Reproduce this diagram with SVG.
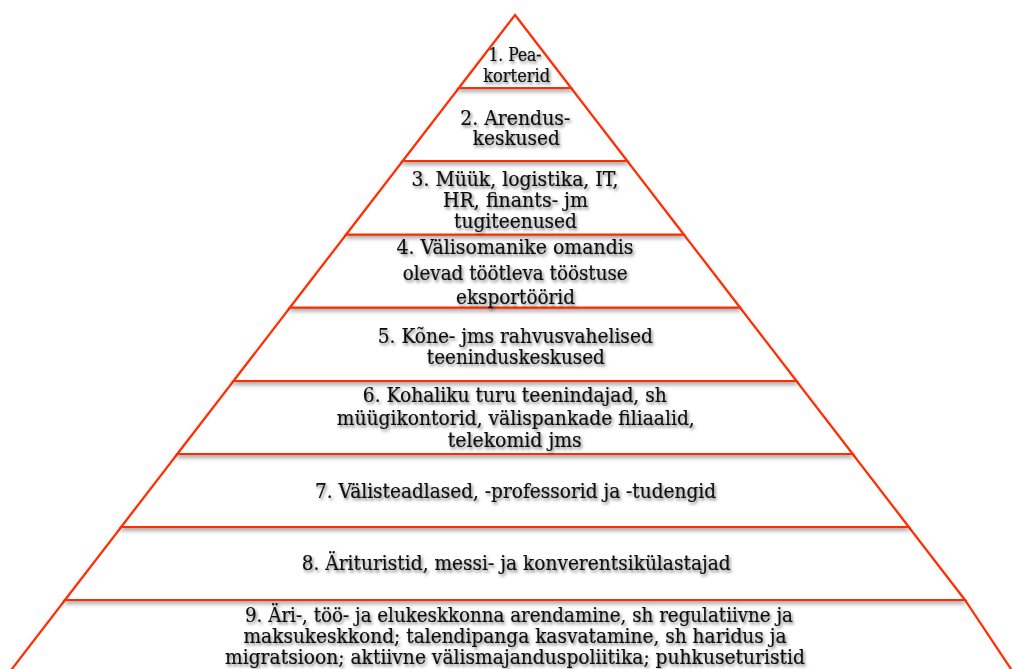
<svg xmlns="http://www.w3.org/2000/svg" width="1012" height="669" viewBox="0 0 1012 669">
  <defs>
    <filter id="shapeShadow" x="-5%" y="-10%" width="110%" height="130%">
      <feDropShadow dx="0" dy="3" stdDeviation="2" flood-color="#000" flood-opacity="0.33"/>
    </filter>
    <filter id="textShadow" x="-5%" y="-30%" width="110%" height="160%">
      <feDropShadow dx="1.5" dy="2.2" stdDeviation="1.5" flood-color="#000" flood-opacity="0.5"/>
    </filter>
  </defs>
  <style>
    .lvl { fill: #ffffff; stroke: #ff2d05; stroke-width: 2.2; stroke-linejoin: miter; filter: url(#shapeShadow); }
    .t { font-family: "DejaVu Serif", "Liberation Serif", serif; font-size: 19.5px; fill: #111111; stroke: #111111; stroke-width: 0.2; text-anchor: middle; filter: url(#textShadow); }
    .t1 { font-size: 18.5px; }
  </style>
  <rect x="0" y="0" width="1012" height="669" fill="#ffffff"/>

  <g id="level9">
    <polygon class="lvl" points="65,600 965,600 1018.3,680 3.5,680"/>
    <text class="t" x="519" y="621.7" textLength="548" lengthAdjust="spacingAndGlyphs">9. Äri-, töö- ja elukeskkonna arendamine, sh regulatiivne ja</text>
    <text class="t" x="515" y="643" textLength="543" lengthAdjust="spacingAndGlyphs">maksukeskkond; talendipanga kasvatamine, sh haridus ja</text>
    <text class="t" x="515" y="664" textLength="580" lengthAdjust="spacingAndGlyphs">migratsioon; aktiivne välismajanduspoliitika; puhkuseturistid</text>
  </g>
  <g id="level8">
    <polygon class="lvl" points="121.2,527 908.8,527 965,600 65,600"/>
    <text class="t" x="516.2" y="570" textLength="429" lengthAdjust="spacingAndGlyphs">8. Ärituristid, messi- ja konverentsikülastajad</text>
  </g>
  <g id="level7">
    <polygon class="lvl" points="177.3,454 852.7,454 908.8,527 121.2,527"/>
    <text class="t" x="515.5" y="498.3" textLength="401" lengthAdjust="spacingAndGlyphs">7. Välisteadlased, -professorid ja -tudengid</text>
  </g>
  <g id="level6">
    <polygon class="lvl" points="233.5,381 796.5,381 852.7,454 177.3,454"/>
    <text class="t" x="514.8" y="401.7" textLength="304" lengthAdjust="spacingAndGlyphs">6. Kohaliku turu teenindajad, sh</text>
    <text class="t" x="515.8" y="425" textLength="358" lengthAdjust="spacingAndGlyphs">müügikontorid, välispankade filiaalid,</text>
    <text class="t" x="514.8" y="446.7" textLength="134" lengthAdjust="spacingAndGlyphs">telekomid jms</text>
  </g>
  <g id="level5">
    <polygon class="lvl" points="290,307.5 740,307.5 796.5,381 233.5,381"/>
    <text class="t" x="515.3" y="343" textLength="275" lengthAdjust="spacingAndGlyphs">5. Kõne- jms rahvusvahelised</text>
    <text class="t" x="515.8" y="364" textLength="178" lengthAdjust="spacingAndGlyphs">teeninduskeskused</text>
  </g>
  <g id="level4">
    <polygon class="lvl" points="346.2,234.5 683.8,234.5 740,307.5 290,307.5"/>
    <text class="t" x="515" y="254.3" textLength="237" lengthAdjust="spacingAndGlyphs">4. Välisomanike omandis</text>
    <text class="t" x="515.2" y="280" textLength="225" lengthAdjust="spacingAndGlyphs">olevad töötleva tööstuse</text>
    <text class="t" x="515.5" y="304" textLength="119" lengthAdjust="spacingAndGlyphs">eksportöörid</text>
  </g>
  <g id="level3">
    <polygon class="lvl" points="402.7,161 627.3,161 683.8,234.5 346.2,234.5"/>
    <text class="t" x="515" y="186" textLength="207" lengthAdjust="spacingAndGlyphs">3. Müük, logistika, IT,</text>
    <text class="t" x="515.5" y="207.3" textLength="145" lengthAdjust="spacingAndGlyphs">HR, finants- jm</text>
    <text class="t" x="515.5" y="227.5" textLength="123" lengthAdjust="spacingAndGlyphs">tugiteenused</text>
  </g>
  <g id="level2">
    <polygon class="lvl" points="458.85,88 571.15,88 627.3,161 402.7,161"/>
    <text class="t" x="515.3" y="125" textLength="110" lengthAdjust="spacingAndGlyphs">2. Arendus-</text>
    <text class="t" x="516.3" y="145" textLength="87" lengthAdjust="spacingAndGlyphs">keskused</text>
  </g>
  <g id="level1">
    <polygon class="lvl" points="515,15 571.15,88 458.85,88"/>
    <text class="t t1" x="515" y="60.7" textLength="53" lengthAdjust="spacingAndGlyphs">1. Pea-</text>
    <text class="t t1" x="516.7" y="81.7" textLength="67" lengthAdjust="spacingAndGlyphs">korterid</text>
  </g>
</svg>
